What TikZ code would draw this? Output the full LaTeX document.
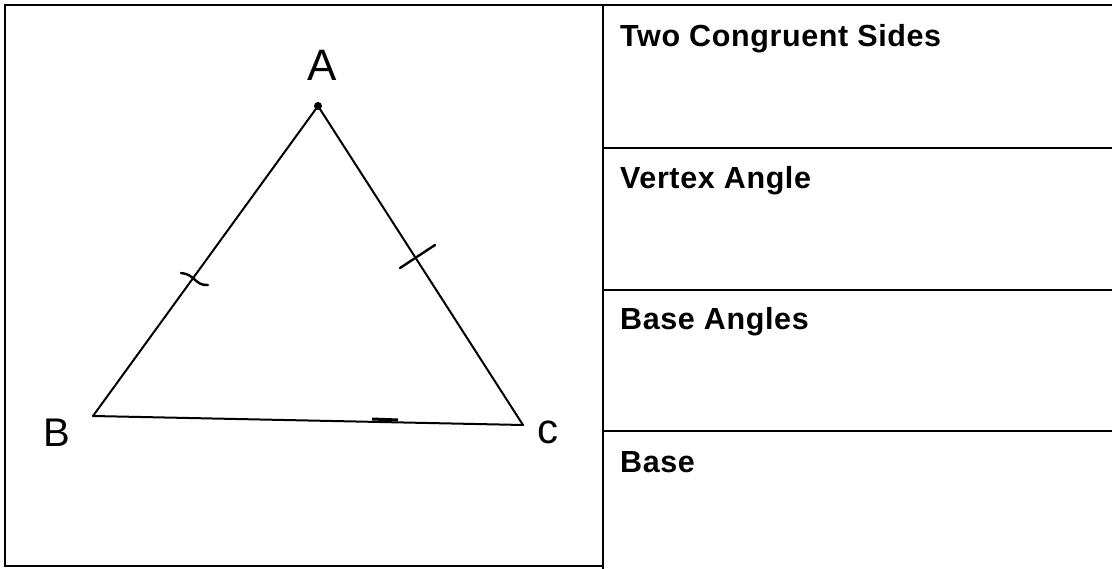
\documentclass[tikz,border=0pt]{standalone}
\usepackage{fontspec}
\setmainfont{Liberation Sans}
\newfontfamily\headfont[LetterSpace=2]{Liberation Sans}
\begin{document}
\begin{tikzpicture}[x=1pt,y=-1pt,
  frame/.style={line width=2.4pt,black},
  side/.style={line width=2pt,black,line cap=round},
  tickmark/.style={line width=2.4pt,black,line cap=round},
  head/.style={anchor=base west,inner sep=0pt,font=\headfont\bfseries\fontsize{30.5}{30.5}\selectfont},
  vlabel/.style={inner sep=0pt}]
\useasboundingbox (0,0) rectangle (1112,569);
% frame
\draw[frame] (1112,5) -- (5,5) -- (5,566) -- (603,566);
\draw[frame] (603,5) -- (603,569);
\draw[frame] (603,148) -- (1112,148);
\draw[frame] (603,290) -- (1112,290);
\draw[frame] (603,431) -- (1112,431);
% right column texts
\node[head] (t1) at (620,47) {Two Congruent Sides};
\node[head] (t2) at (620,189) {Vertex Angle};
\node[head] (t3) at (620,330) {Base Angles};
\node[head] (t4) at (620,472) {Base};
% triangle
\coordinate (A) at (318,106);
\coordinate (B) at (93,416);
\coordinate (C) at (523,425);
\draw[side] (A) -- (B);
\draw[side] (A) -- (C);
\draw[side] (B) -- (C);
\fill (A) circle (4pt);
\draw[line width=3pt] (372,419) -- (398,420);
% tick marks
\coordinate (k1a) at (181,273);
\coordinate (k1b) at (208,285);
\draw[tickmark] (k1a) .. controls (195,274) and (195,286) .. (k1b);
\coordinate (k2a) at (400,268);
\coordinate (k2b) at (435,245);
\draw[tickmark] (k2a) -- (k2b);
% vertex labels
\node[vlabel,font=\fontsize{44}{44}\selectfont] (la) at (322,65) {A};
\node[vlabel,font=\fontsize{40}{40}\selectfont] (lb) at (57,433) {B};
\node[vlabel,font=\fontsize{42}{42}\selectfont] (lc) at (548,432) {c};
\end{tikzpicture}
\end{document}
